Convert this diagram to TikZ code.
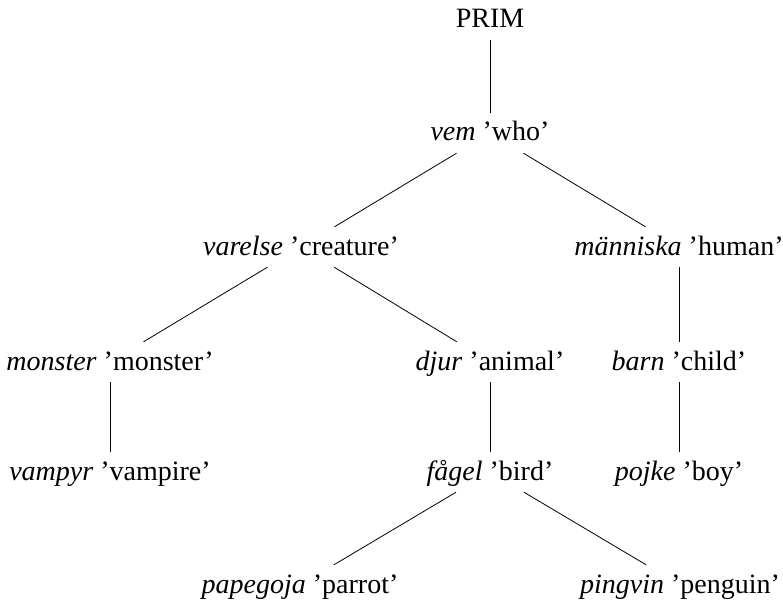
\documentclass[tikz,border=0pt]{standalone}
\usepackage{fontspec}
\setmainfont{Liberation Serif}
\begin{document}
\begin{tikzpicture}[x=1pt,y=1pt,
  tn/.style={inner sep=0pt, minimum height=40pt, text height=20pt, text depth=4pt,
    font=\fontsize{28}{34}\selectfont},
  edge/.style={draw=black, line width=0.8pt}]
\useasboundingbox (0,0) rectangle (783,-604);
\node[tn] (prim) at (490,-20) {PRIM};
\node[tn] (vem) at (490,-133) {\textit{vem} 'who'};
\node[tn] (varelse) at (301,-247) {\textit{varelse} 'creature'};
\node[tn] (manniska) at (679,-247) {\textit{människa} 'human'};
\node[tn] (monster) at (110,-362) {\textit{monster} 'monster'};
\node[tn] (djur) at (490,-362) {\textit{djur} 'animal'};
\node[tn] (barn) at (679,-362) {\textit{barn} 'child'};
\node[tn] (vampyr) at (110,-472) {\textit{vampyr} 'vampire'};
\node[tn] (fagel) at (490,-472) {\textit{fågel} 'bird'};
\node[tn] (pojke) at (679,-472) {\textit{pojke} 'boy'};
\node[tn] (papegoja) at (300,-585) {\textit{papegoja} 'parrot'};
\node[tn] (pingvin) at (680,-585) {\textit{pingvin} 'penguin'};
\draw[edge] (prim) -- (vem);
\draw[edge] (vem) -- (varelse);
\draw[edge] (vem) -- (manniska);
\draw[edge] (varelse) -- (monster);
\draw[edge] (varelse) -- (djur);
\draw[edge] (manniska) -- (barn);
\draw[edge] (monster) -- (vampyr);
\draw[edge] (djur) -- (fagel);
\draw[edge] (barn) -- (pojke);
\draw[edge] (fagel) -- (papegoja);
\draw[edge] (fagel) -- (pingvin);
\end{tikzpicture}
\end{document}
